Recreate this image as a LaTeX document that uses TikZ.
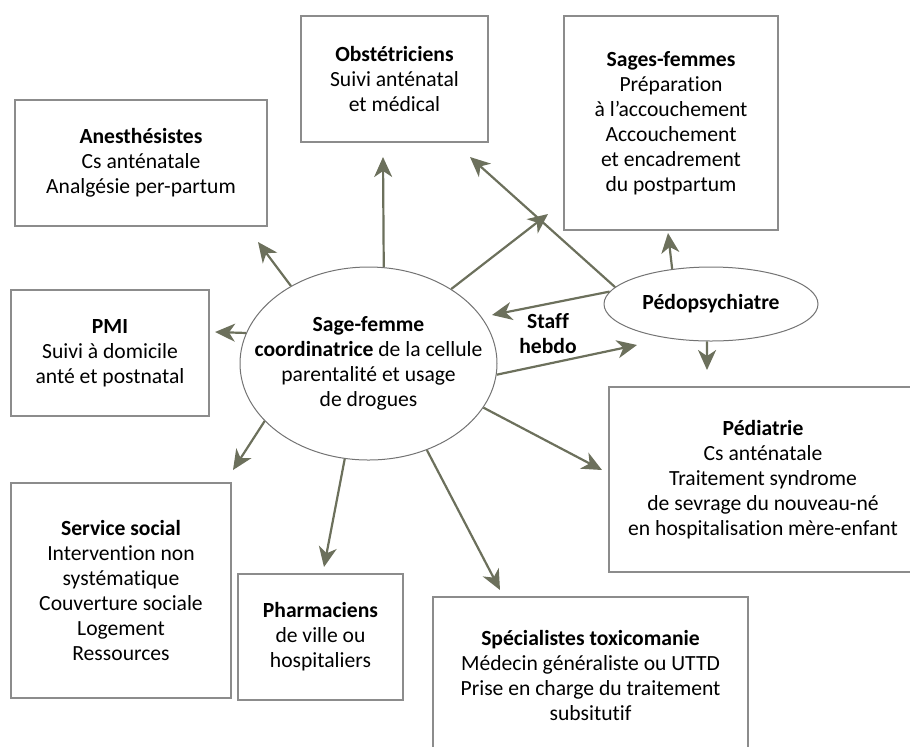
\documentclass[tikz,border=0pt]{standalone}
\usepackage{fontspec}
\setmainfont{Carlito}[Ligatures=NoCommon]
\usetikzlibrary{shapes.geometric,arrows.meta}
\definecolor{arrowolive}{RGB}{108,112,92}
\definecolor{boxgray}{RGB}{140,140,140}
\definecolor{ringgray}{RGB}{115,115,115}

\begin{document}
\begin{tikzpicture}[
        x=0.5pt, y=-0.5pt,
        font=\fontsize{10.8}{12.5}\selectfont,
        box/.style 2 args={
            draw=boxgray, line width=0.7pt, align=center, inner sep=0pt,
            minimum width=#1*0.5pt, minimum height=#2*0.5pt},
        ring/.style 2 args={
            ellipse, draw=ringgray, line width=0.5pt, inner sep=0pt,
            minimum width=#1*0.5pt, minimum height=#2*0.5pt},
        arr/.style={
            draw=arrowolive, line width=1.1pt,
            -{Stealth[length=10pt, width=9pt, inset=3pt, fill=arrowolive]}}
    ]
    \useasboundingbox (0,0) rectangle (910,746);

    \node[box={252}{126}] (anes) at (141,163) {\textbf{Anesthésistes}\\Cs anténatale\\Analgésie per-partum};
    \node[box={187}{126}] (obst) at (394.5,79) {\textbf{Obstétriciens}\\Suivi anténatal\\et médical};
    \node[box={214}{214}] (sages) at (671,123) {\textbf{Sages-femmes}\\Préparation\\à l’accouchement\\Accouchement\\et encadrement\\du postpartum};
    \node[box={198}{126}] (pmi) at (110,353) {\textbf{PMI}\\Suivi à domicile\\anté et postnatal};
    \node[box={220}{215}] (social) at (121,590.5) {\textbf{Service social}\\Intervention non\\systématique\\Couverture sociale\\Logement\\Ressources};
    \node[box={165}{126}] (pharma) at (320.5,637) {\textbf{Pharmaciens}\\de ville ou\\hospitaliers};
    \node[box={315}{156}] (toxico) at (590.5,675) {\textbf{Spécialistes toxicomanie}\\Médecin généraliste ou UTTD\\Prise en charge du traitement\\subsitutif};
    \node[box={308}{185}] (pedia) at (763,479.5) {\textbf{Pédiatrie}\\Cs anténatale\\Traitement syndrome\\de sevrage du nouveau-né\\en hospitalisation mère-enfant};

    \node[ring={257}{193}] (centre) at (368.5,363.5) {};
    \node[align=center] (centrelabel) at (centre) {\textbf{Sage-femme}\\\textbf{coordinatrice} de la cellule\\parentalité et usage\\de drogues};
    \node[ring={214}{74}] (pedo) at (711,304) {\textbf{Pédopsychiatre}};
    \node[align=center, font=\fontsize{10.8}{12.5}\selectfont\bfseries] (staff) at (548,334) {Staff\\hebdo};

    \coordinate (tipanes) at (258,242);
    \coordinate (tipobst) at (383,157);
    \coordinate (tipsages) at (548,214);
    \coordinate (tippedo) at (637,345);
    \coordinate (tippedia) at (602,470);
    \coordinate (tiptoxico) at (500,590);
    \coordinate (tippharma) at (324,567);
    \coordinate (tipsocial) at (233,470);
    \coordinate (tippmi) at (215,332);
    \coordinate (tipcentre) at (492,315);
    \coordinate (tippobst) at (470,157);
    \coordinate (tippsages) at (668,233);
    \coordinate (tipppedia) at (707,370);

    \draw[arr] (centre.135) -- (tipanes);
    \draw[arr] (centre.81) -- (tipobst);
    \draw[arr] (centre.42) -- (tipsages);
    \draw[arr] (centre.-5) -- (tippedo);
    \draw[arr] (centre.-21) -- (tippedia);
    \draw[arr] (centre.-56) -- (tiptoxico);
    \draw[arr] (centre.-104) -- (tippharma);
    \draw[arr] (centre.-151) -- (tipsocial);
    \draw[arr] (centre.166) -- (tippmi);

    \draw[arr] (pedo.173) -- (tipcentre);
    \draw[arr] (pedo.170) -- (tippobst);
    \draw[arr] (pedo.138) -- (tippsages);
    \draw[arr] (pedo.-96) -- (tipppedia);
\end{tikzpicture}
\end{document}
